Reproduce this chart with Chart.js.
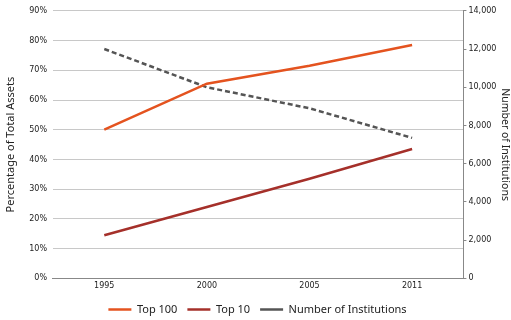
<!DOCTYPE html>
<html>
<head>
<meta charset="utf-8">
<script src="https://cdn.jsdelivr.net/npm/chart.js@4"></script>
<style>
  html, body { margin: 0; padding: 0; background: #fff; }
  #wrap { width: 511px; height: 320px; }
</style>
</head>
<body>
<div id="wrap"><canvas id="chart" width="511" height="320"></canvas></div>
<script>
// chart data
var years = ["1995", "2000", "2005", "2011"];
var top100 = [50, 65.5, 71.5, 78.5];
var top10 = [14.5, 24, 33.5, 43.5];
var institutions = [12000, 10000, 8900, 7350];

var tickFont = { family: "DejaVu Sans", size: 8 };

new Chart(document.getElementById("chart"), {
    type: "line",
    data: {
        labels: years,
        datasets: [
            {
                label: "Top 100",
                data: top100,
                borderColor: "#e4531f",
                backgroundColor: "#e4531f",
                borderWidth: 2.5,
                pointRadius: 0,
                yAxisID: "y"
            },
            {
                label: "Top 10",
                data: top10,
                borderColor: "#a5302a",
                backgroundColor: "#a5302a",
                borderWidth: 2.5,
                pointRadius: 0,
                yAxisID: "y"
            },
            {
                label: "Number of Institutions",
                data: institutions,
                borderColor: "#555555",
                backgroundColor: "#555555",
                borderWidth: 2.5,
                borderDash: [5, 3],
                pointRadius: 0,
                yAxisID: "y1"
            }
        ]
    },
    options: {
        responsive: false,
        animation: false,
        // legend box has some empty space at its bottom, let it hang off the canvas a bit
        layout: { padding: { top: 8, right: 0, left: 4, bottom: -5 } },
        plugins: {
            tooltip: { enabled: false },
            legend: {
                position: "bottom",
                labels: {
                    usePointStyle: true,
                    pointStyle: "line",
                    pointStyleWidth: 23,
                    boxHeight: 8,
                    padding: 10,
                    color: "#222",
                    font: { family: "Noto Sans", size: 11 }
                }
            }
        },
        scales: {
            x: {
                offset: true,
                grid: { display: false, drawTicks: false },
                border: { color: "#888", width: 1 },
                ticks: { color: "#222", font: tickFont, padding: 3, maxRotation: 0 }
            },
            y: {
                position: "left",
                min: 0,
                max: 90,
                ticks: {
                    stepSize: 10,
                    color: "#222",
                    font: tickFont,
                    padding: 6,
                    callback: function(v) { return v + "%"; }
                },
                grid: { color: "#c8c8c8", drawTicks: false },
                border: { display: false },
                title: {
                    display: true,
                    text: "Percentage of Total Assets",
                    color: "#222",
                    font: { family: "Noto Sans", size: 11 },
                    padding: { top: 0, bottom: 6 }
                }
            },
            y1: {
                position: "right",
                min: 0,
                max: 14000,
                ticks: {
                    stepSize: 2000,
                    color: "#222",
                    font: tickFont,
                    padding: 2,
                    callback: function(v) { return v.toLocaleString("en-US"); }
                },
                grid: { drawOnChartArea: false, tickLength: 3, color: "#888" },
                border: { color: "#888", width: 1 },
                title: {
                    display: true,
                    text: "Number of Institutions",
                    color: "#222",
                    font: { family: "Noto Sans", size: 10.5 },
                    padding: { top: 0, bottom: 0 }
                }
            }
        }
    }
});
</script>
</body>
</html>
